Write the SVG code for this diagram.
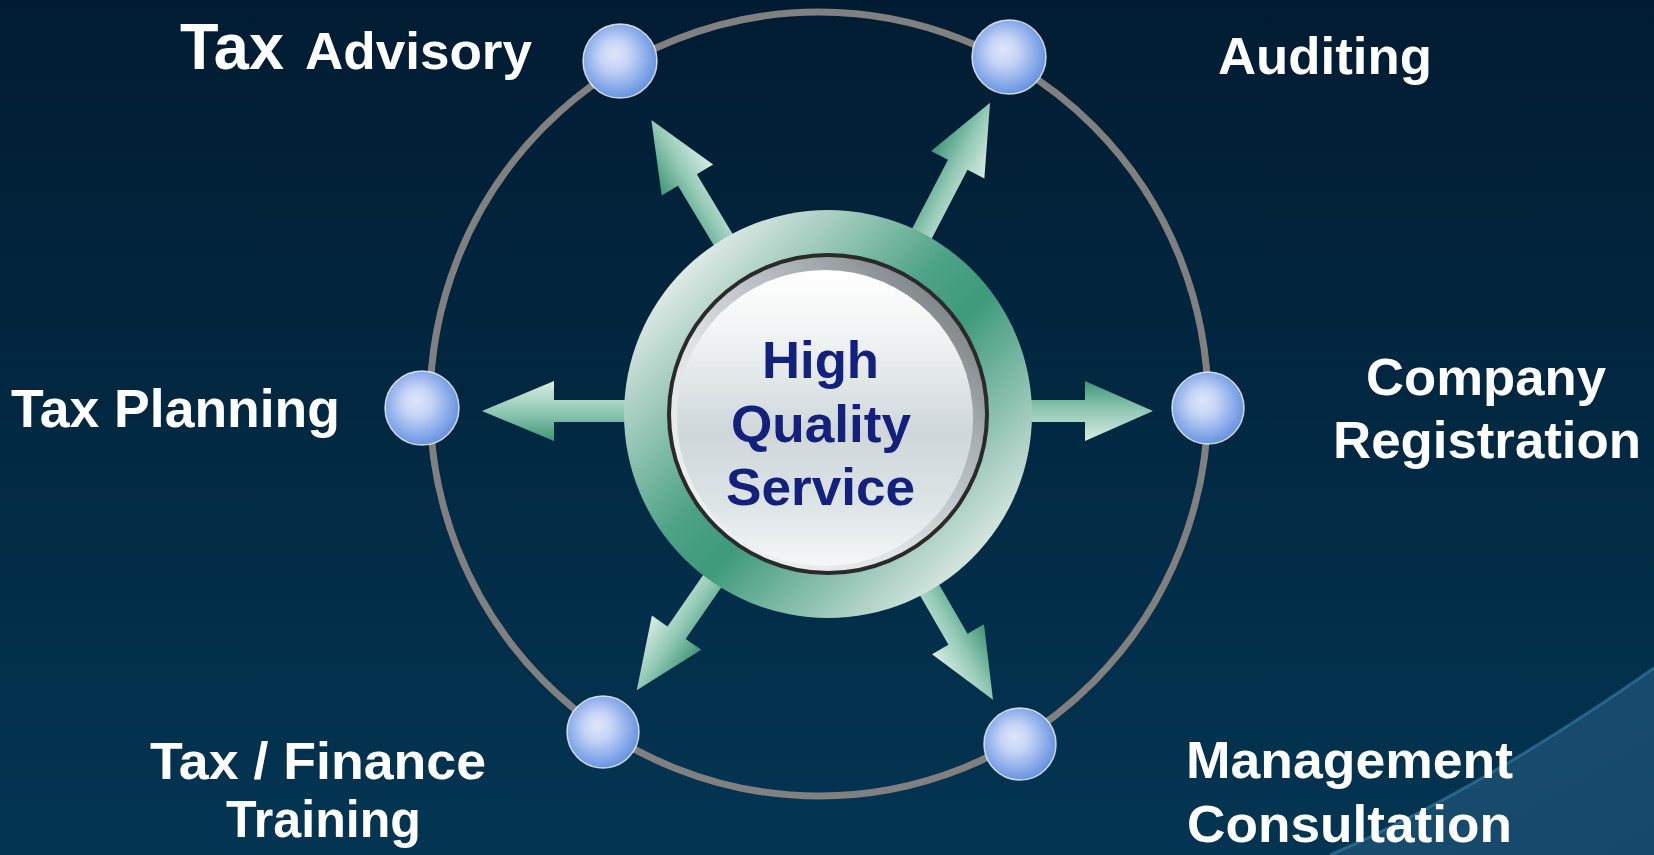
<svg xmlns="http://www.w3.org/2000/svg" width="1654" height="855" viewBox="0 0 1654 855">
  <defs>
    <linearGradient id="bg" x1="0" y1="0" x2="0" y2="1">
      <stop offset="0" stop-color="#011c32"/>
      <stop offset="1" stop-color="#033552"/>
    </linearGradient>
    <linearGradient id="wedge" x1="0" y1="0" x2="1" y2="1">
      <stop offset="0" stop-color="#1a4f70"/>
      <stop offset="1" stop-color="#15486a"/>
    </linearGradient>
    <radialGradient id="sphere" cx="0.45" cy="0.45" r="0.55" fx="0.42" fy="0.4">
      <stop offset="0" stop-color="#dfe6fa"/>
      <stop offset="0.35" stop-color="#c6d4f5"/>
      <stop offset="0.75" stop-color="#8cadea"/>
      <stop offset="1" stop-color="#6994e0"/>
    </radialGradient>
    <linearGradient id="arrowGrad" gradientUnits="userSpaceOnUse" x1="0" y1="-30" x2="0" y2="30">
      <stop offset="0" stop-color="#3f9676"/>
      <stop offset="0.5" stop-color="#93c9b5"/>
      <stop offset="1" stop-color="#d8ece4"/>
    </linearGradient>
    <linearGradient id="ringGrad" gradientUnits="userSpaceOnUse" x1="624" y1="210" x2="1032" y2="618">
      <stop offset="0" stop-color="#f4f7f6"/>
      <stop offset="0.15" stop-color="#dce8e3"/>
      <stop offset="0.45" stop-color="#4da286"/>
      <stop offset="0.55" stop-color="#3e9a7b"/>
      <stop offset="0.85" stop-color="#d3e4dd"/>
      <stop offset="1" stop-color="#f4f7f6"/>
    </linearGradient>
    <linearGradient id="bevel" x1="1" y1="0" x2="0" y2="1">
      <stop offset="0" stop-color="#5e6366"/>
      <stop offset="0.3" stop-color="#a7aeb2"/>
      <stop offset="0.6" stop-color="#dde2e4"/>
      <stop offset="1" stop-color="#f5f7f7"/>
    </linearGradient>
    <linearGradient id="face" x1="0" y1="0" x2="0" y2="1">
      <stop offset="0" stop-color="#ffffff"/>
      <stop offset="0.25" stop-color="#eef1f2"/>
      <stop offset="0.55" stop-color="#cfd7db"/>
      <stop offset="0.78" stop-color="#dbe3e5"/>
      <stop offset="1" stop-color="#f4f7f7"/>
    </linearGradient>
    <style>
      .lbl { font-family: "Liberation Sans", Arial, sans-serif; font-weight: bold; fill: #ffffff; }
      .ctr { font-family: "Liberation Sans", Arial, sans-serif; font-weight: bold; fill: #13217d; font-size: 52px; }
      .sph { fill: url(#sphere); stroke: #ffffff; stroke-opacity: 0.75; stroke-width: 1.5; }
      .arr { fill: url(#arrowGrad); }
    </style>
  </defs>

  <!-- background -->
  <rect x="0" y="0" width="1654" height="855" fill="url(#bg)"/>
  <path d="M1330 855 Q1480 790 1654 668 L1654 855 Z" fill="url(#wedge)"/>
  <path d="M1330 855 Q1480 790 1654 668" fill="none" stroke="#3a86ab" stroke-opacity="0.55" stroke-width="3"/>

  <!-- orbit ring -->
  <ellipse cx="819" cy="404" rx="389" ry="392" fill="none" stroke="#808080" stroke-width="7"/>

  <!-- connectors -->
  <g id="connectors">
    <path class="arr" transform="translate(828,414) rotate(-121)" d="M150 -11 L273 -11 L273 -30 L343 0 L273 30 L273 11 L150 11 Z"/>
    <path class="arr" transform="translate(828,414) rotate(-62.5)" d="M150 -11 L281 -11 L281 -30 L351 0 L281 30 L281 11 L150 11 Z"/>
    <path class="arr" transform="translate(828,411) rotate(180)" d="M150 -11 L274 -11 L274 -30 L346 0 L274 30 L274 11 L150 11 Z"/>
    <path class="arr" transform="translate(828,411) rotate(0)" d="M150 -11 L257 -11 L257 -30 L325 0 L257 30 L257 11 L150 11 Z"/>
    <path class="arr" transform="translate(828,414) rotate(124.7)" d="M150 -11 L266 -11 L266 -30 L336 0 L266 30 L266 11 L150 11 Z"/>
    <path class="arr" transform="translate(828,414) rotate(60)" d="M150 -11 L260 -11 L260 -30 L330 0 L260 30 L260 11 L150 11 Z"/>
  </g>

  <!-- center node -->
  <g id="node-center">
    <circle cx="828" cy="414" r="204" fill="url(#ringGrad)"/>
    <circle cx="828" cy="414" r="161" fill="#2a2a2a"/>
    <circle cx="828" cy="414" r="157" fill="url(#bevel)"/>
    <circle cx="825" cy="418" r="148" fill="url(#face)"/>
    <text class="ctr" x="762" y="378" textLength="117" lengthAdjust="spacingAndGlyphs">High</text>
    <text class="ctr" x="731" y="442" textLength="180" lengthAdjust="spacingAndGlyphs">Quality</text>
    <text class="ctr" x="726" y="505" textLength="189" lengthAdjust="spacingAndGlyphs">Service</text>
  </g>

  <g id="node-tax-advisory">
    <circle class="sph" cx="620" cy="61" r="37"/>
    <text class="lbl" x="180" y="69" font-size="64" textLength="104" lengthAdjust="spacingAndGlyphs">Tax</text>
    <text class="lbl" x="305" y="69" font-size="52" textLength="227" lengthAdjust="spacingAndGlyphs">Advisory</text>
  </g>

  <g id="node-auditing">
    <circle class="sph" cx="1009" cy="57" r="37"/>
    <text class="lbl" x="1218" y="74" font-size="52" textLength="214" lengthAdjust="spacingAndGlyphs">Auditing</text>
  </g>

  <g id="node-tax-planning">
    <circle class="sph" cx="422" cy="408" r="37"/>
    <text class="lbl" x="11" y="427" font-size="53" textLength="329" lengthAdjust="spacingAndGlyphs">Tax Planning</text>
  </g>

  <g id="node-company-registration">
    <circle class="sph" cx="1208" cy="408" r="36"/>
    <text class="lbl" x="1366" y="395" font-size="52" textLength="240" lengthAdjust="spacingAndGlyphs">Company</text>
    <text class="lbl" x="1333" y="458" font-size="52" textLength="308" lengthAdjust="spacingAndGlyphs">Registration</text>
  </g>

  <g id="node-tax-finance-training">
    <circle class="sph" cx="603" cy="732" r="36"/>
    <text class="lbl" x="150" y="779" font-size="52" textLength="336" lengthAdjust="spacingAndGlyphs">Tax / Finance</text>
    <text class="lbl" x="226" y="837" font-size="52" textLength="195" lengthAdjust="spacingAndGlyphs">Training</text>
  </g>

  <g id="node-management-consultation">
    <circle class="sph" cx="1020" cy="744" r="36"/>
    <text class="lbl" x="1186" y="778" font-size="52" textLength="327" lengthAdjust="spacingAndGlyphs">Management</text>
    <text class="lbl" x="1187" y="842" font-size="52" textLength="325" lengthAdjust="spacingAndGlyphs">Consultation</text>
  </g>
</svg>
